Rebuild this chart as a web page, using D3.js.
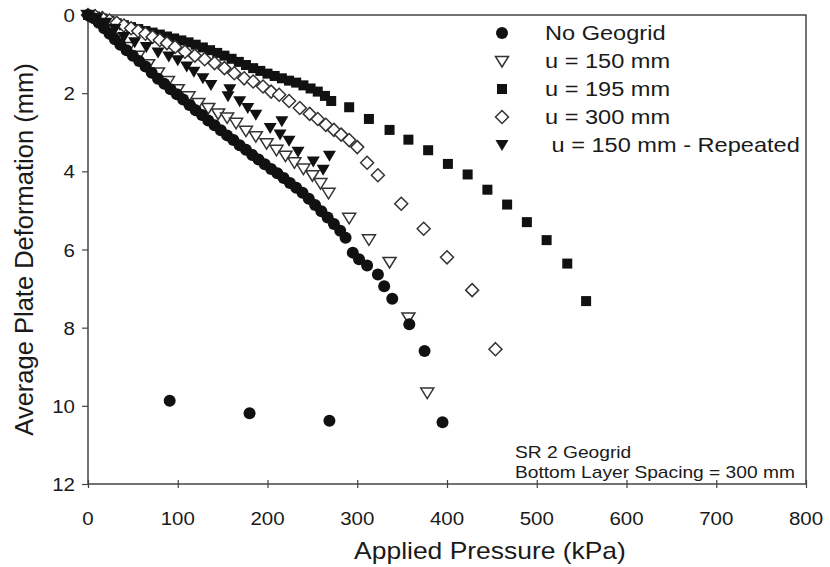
<!DOCTYPE html>
<html>
<head>
<meta charset="utf-8">
<script src="https://cdn.jsdelivr.net/npm/d3@7"></script>
<style>
  body { margin: 0; background: #fff; }
  text { font-family: "Liberation Sans", Arial, sans-serif; fill: #1a1a1a; }
</style>
</head>
<body>
<div id="chart"></div>
<script>
// Data: [pressure kPa, deformation mm]
const noGeogrid = [
  [0,0],[6,0.08],[12,0.2],[18,0.34],[24,0.48],[30,0.62],[36,0.76],[43,0.9],[50,1.04],[57,1.18],
  [64,1.32],[71,1.48],[78,1.63],[85,1.76],[92,1.9],[99,2.03],[106,2.16],[113,2.3],[120,2.44],[127,2.56],
  [134,2.7],[141,2.82],[148,2.95],[155,3.08],[162,3.2],[169,3.33],[176,3.45],[183,3.58],[190,3.7],[197,3.82],
  [204,3.94],[211,4.05],[218,4.17],[225,4.3],[232,4.42],[239,4.55],[246,4.7],[253,4.86],[260,5.02],[267,5.18],
  [274,5.35],[281,5.52],[287,5.7],[295,6.08],[302,6.25],[311,6.41],[323,6.64],[330,6.94],[339,7.26],[358,7.91],
  [375,8.6],[91,9.87],[180,10.19],[269,10.38],[395,10.42]
];
const u150 = [
  [0,0],[8,0.1],[16,0.22],[24,0.36],[34,0.58],[45,0.82],[56,1.04],[67,1.26],[78,1.47],[89,1.69],
  [100,1.9],[112,2.08],[123,2.25],[134,2.38],[145,2.52],[155,2.62],[165,2.76],[176,2.96],[187,3.1],[199,3.28],
  [210,3.45],[220,3.6],[230,3.77],[240,3.93],[250,4.1],[259,4.3],[268,4.55],[291,5.19],[313,5.74],[336,6.32],
  [357,7.74],[378,9.66]
];
const u195 = [
  [0,0],[8,0.04],[16,0.09],[24,0.15],[32,0.21],[40,0.26],[48,0.31],[56,0.36],[64,0.41],[72,0.45],
  [80,0.5],[88,0.55],[96,0.6],[104,0.65],[112,0.7],[120,0.76],[128,0.83],[136,0.9],[144,0.97],[152,1.04],
  [160,1.12],[168,1.2],[176,1.28],[184,1.36],[192,1.43],[200,1.5],[208,1.56],[216,1.62],[224,1.68],[232,1.73],
  [240,1.8],[248,1.88],[256,1.96],[264,2.07],[271,2.2],[291,2.36],[313,2.66],[336,2.94],[357,3.19],[379,3.46],
  [401,3.81],[423,4.08],[445,4.47],[467,4.85],[489,5.3],[511,5.76],[534,6.36],[555,7.32]
];
const u300 = [
  [0,0],[8,0.03],[16,0.08],[24,0.14],[32,0.2],[40,0.27],[48,0.34],[56,0.41],[64,0.48],[72,0.56],
  [80,0.64],[88,0.72],[97,0.82],[108,0.94],[119,1.04],[130,1.13],[141,1.23],[152,1.36],[163,1.49],[174,1.62],
  [184,1.7],[195,1.83],[204,1.96],[213,2.04],[224,2.2],[236,2.38],[247,2.53],[256,2.66],[265,2.81],[274,2.94],
  [282,3.06],[291,3.2],[300,3.38],[311,3.78],[323,4.1],[349,4.83],[374,5.47],[400,6.2],[428,7.04],[454,8.55]
];
const u150Repeated = [
  [0,0],[10,0.08],[20,0.2],[30,0.36],[40,0.56],[52,0.7],[65,0.82],[78,0.96],[90,1.06],[100,1.16],
  [110,1.32],[118,1.45],[128,1.62],[137,1.79],[158,1.9],[156,2.08],[169,2.21],[178,2.38],[187,2.55],[216,2.72],
  [203,2.89],[214,3.06],[224,3.22],[234,3.5],[269,3.6],[251,3.75],[262,3.96]
];

const seriesNames = ["No Geogrid", "u = 150 mm", "u = 195 mm", "u = 300 mm", " u = 150 mm - Repeated"];
const xTicks = [0, 100, 200, 300, 400, 500, 600, 700, 800];
const yTicks = [0, 2, 4, 6, 8, 10, 12];
const note = ["SR 2 Geogrid", "Bottom Layer Spacing = 300 mm"];

const W = 830, H = 567;
const svg = d3.select("#chart").append("svg").attr("width", W).attr("height", H);

const x = d3.scaleLinear().domain([0, 800]).range([88, 806]);
const y = d3.scaleLinear().domain([0, 12]).range([15, 484]);

// text helper: the scan is stretched sideways a little
function label(g, tx, ty, str, size, anchor, sx) {
  return g.append("text")
    .attr("transform", `translate(${tx},${ty}) scale(${sx},1)`)
    .attr("font-size", size)
    .attr("text-anchor", anchor)
    .text(str);
}

// marker shapes
const shapes = {
  circle: g => g.append("circle").attr("r", 6).attr("fill", "#111"),
  triDownOpen: g => g.append("path").attr("d", "M-6.5,-4.5L6.5,-4.5L0,6Z")
    .attr("fill", "#fff").attr("stroke", "#333").attr("stroke-width", 1.5),
  square: g => g.append("rect").attr("x", -5).attr("y", -5).attr("width", 10).attr("height", 10).attr("fill", "#111"),
  diamond: g => g.append("path").attr("d", "M0,-6.5L6.5,0L0,6.5L-6.5,0Z")
    .attr("fill", "#fff").attr("stroke", "#333").attr("stroke-width", 1.5),
  triDown: g => g.append("path").attr("d", "M-6.5,-5L6.5,-5L0,6Z").attr("fill", "#111")
};

// frame
const axisColor = "#444";
svg.append("rect").attr("x", x(0)).attr("y", y(0))
  .attr("width", x(800) - x(0)).attr("height", y(12) - y(0))
  .attr("fill", "none").attr("stroke", axisColor).attr("stroke-width", 1.5);

// axes
const xAxis = svg.append("g").attr("transform", `translate(0,${y(12)})`)
  .call(d3.axisBottom(x).tickValues(xTicks).tickSize(4).tickFormat(""));
xAxis.selectAll("line").attr("y1", -4).attr("stroke", axisColor).attr("stroke-width", 1.2);
xAxis.select(".domain").remove();
const yAxis = svg.append("g").attr("transform", `translate(${x(0)},0)`)
  .call(d3.axisLeft(y).tickValues(yTicks).tickSize(6).tickFormat(""));
yAxis.selectAll("line").attr("stroke", axisColor).attr("stroke-width", 1.2);
yAxis.select(".domain").remove();

xTicks.forEach(t => label(svg, x(t), 525, t, 19, "middle", 1.08));
yTicks.forEach(t => label(svg, 75, y(t) + 7, t, 19, "end", 1.08));

label(svg, 490, 559, "Applied Pressure (kPa)", 23, "middle", 1.15);
svg.append("text")
  .attr("transform", `translate(33,${(y(0) + y(12)) / 2}) rotate(-90)`)
  .attr("font-size", 25.5).attr("text-anchor", "middle")
  .text("Average Plate Deformation (mm)");

// points
const allSeries = [
  {data: u195, shape: "square"},
  {data: u300, shape: "diamond"},
  {data: u150, shape: "triDownOpen"},
  {data: u150Repeated, shape: "triDown"},
  {data: noGeogrid, shape: "circle"}
];
allSeries.forEach(s => {
  svg.append("g").selectAll("g").data(s.data).join("g")
    .attr("transform", d => `translate(${x(d[0])},${y(d[1])})`)
    .each(function() { shapes[s.shape](d3.select(this)); });
});

// legend
const legendShapes = ["circle", "triDownOpen", "square", "diamond", "triDown"];
const legendRows = [33, 61, 89, 117, 145];
seriesNames.forEach((name, i) => {
  const g = svg.append("g").attr("transform", `translate(502,${legendRows[i]})`);
  shapes[legendShapes[i]](g);
  label(svg, 545, legendRows[i] + 7, name, 20.5, "start", 1.15).style("white-space", "pre");
});

// note
note.forEach((t, i) => label(svg, 515, 458 + i * 20, t, 16, "start", 1.2));
</script>
</body>
</html>
